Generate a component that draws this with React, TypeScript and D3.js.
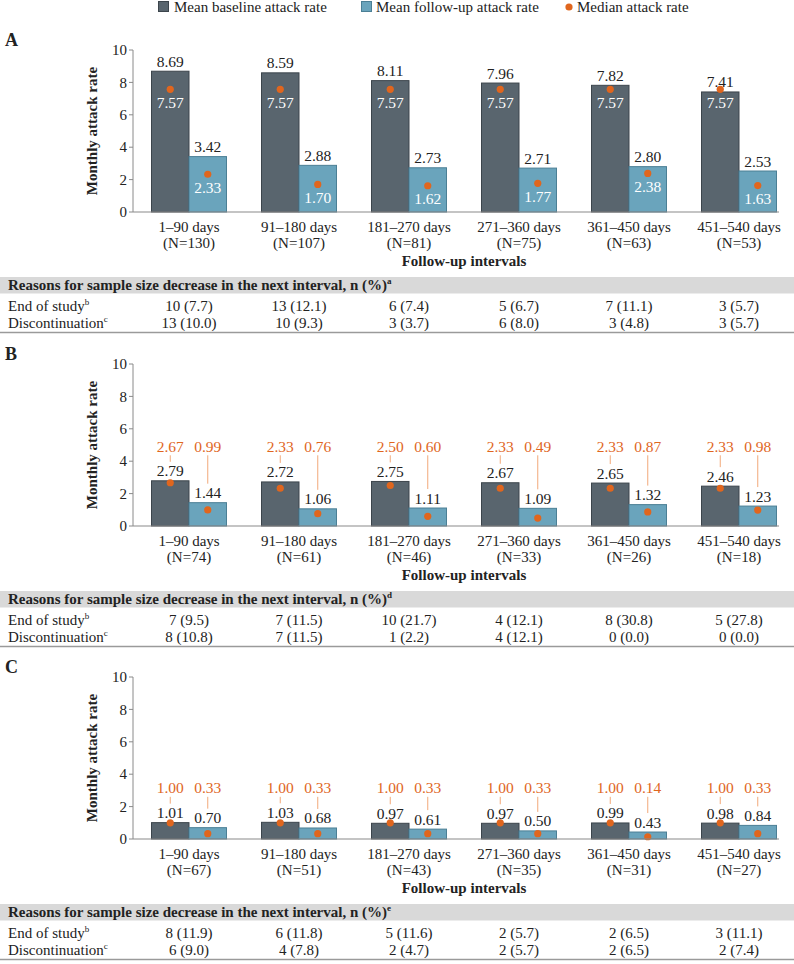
import React from "react";
import * as d3 from "d3";

const intervals = ["1–90 days", "91–180 days", "181–270 days", "271–360 days", "361–450 days", "451–540 days"];
const seriesKeys = ["baseline", "followup"];
const yTicks = [0, 2, 4, 6, 8, 10];

const nA = [130, 107, 81, 75, 63, 53];
const baselineA = [8.69, 8.59, 8.11, 7.96, 7.82, 7.41];
const followA = [3.42, 2.88, 2.73, 2.71, 2.80, 2.53];
const medBaseA = [7.57, 7.57, 7.57, 7.57, 7.57, 7.57];
const medFollowA = [2.33, 1.70, 1.62, 1.77, 2.38, 1.63];
const endA = ["10 (7.7)", "13 (12.1)", "6 (7.4)", "5 (6.7)", "7 (11.1)", "3 (5.7)"];
const discA = ["13 (10.0)", "10 (9.3)", "3 (3.7)", "6 (8.0)", "3 (4.8)", "3 (5.7)"];

const nB = [74, 61, 46, 33, 26, 18];
const baselineB = [2.79, 2.72, 2.75, 2.67, 2.65, 2.46];
const followB = [1.44, 1.06, 1.11, 1.09, 1.32, 1.23];
const medBaseB = [2.67, 2.33, 2.50, 2.33, 2.33, 2.33];
const medFollowB = [0.99, 0.76, 0.60, 0.49, 0.87, 0.98];
const endB = ["7 (9.5)", "7 (11.5)", "10 (21.7)", "4 (12.1)", "8 (30.8)", "5 (27.8)"];
const discB = ["8 (10.8)", "7 (11.5)", "1 (2.2)", "4 (12.1)", "0 (0.0)", "0 (0.0)"];

const nC = [67, 51, 43, 35, 31, 27];
const baselineC = [1.01, 1.03, 0.97, 0.97, 0.99, 0.98];
const followC = [0.70, 0.68, 0.61, 0.50, 0.43, 0.84];
const medBaseC = [1.00, 1.00, 1.00, 1.00, 1.00, 1.00];
const medFollowC = [0.33, 0.33, 0.33, 0.33, 0.14, 0.33];
const endC = ["8 (11.9)", "6 (11.8)", "5 (11.6)", "2 (5.7)", "2 (6.5)", "3 (11.1)"];
const discC = ["6 (9.0)", "4 (7.8)", "2 (4.7)", "2 (5.7)", "2 (6.5)", "2 (7.4)"];

const DARK = "#59656e";
const DARK_STROKE = "#3c454c";
const LIGHT = "#6aa4bc";
const LIGHT_STROKE = "#4b7f95";
const ORANGE = "#e0661e";
const LEADER = "#f2a97a";
const FONT = "Liberation Serif, Times New Roman, Times, DejaVu Serif, serif";

type Panel = {
  label: string;
  y0: number;
  n: number[];
  base: number[];
  follow: number[];
  medBase: number[];
  medFollow: number[];
  end: string[];
  disc: string[];
  note: string;
  inside: boolean;
};

const panels: Panel[] = [
  { label: "A", y0: 212, n: nA, base: baselineA, follow: followA, medBase: medBaseA, medFollow: medFollowA, end: endA, disc: discA, note: "a", inside: true },
  { label: "B", y0: 526, n: nB, base: baselineB, follow: followB, medBase: medBaseB, medFollow: medFollowB, end: endB, disc: discB, note: "d", inside: false },
  { label: "C", y0: 839, n: nC, base: baselineC, follow: followC, medBase: medBaseC, medFollow: medFollowC, end: endC, disc: discC, note: "e", inside: false },
];

const x = d3.scaleBand<string>().domain(intervals).range([134, 794]).paddingInner(35 / 110).paddingOuter(35 / 220);
const xs = d3.scaleBand<string>().domain(seriesKeys).range([0, x.bandwidth()]);

const txt = { fontFamily: FONT, fill: "#222" };

function PanelView({ p }: { p: Panel }) {
  const y = d3.scaleLinear().domain([0, 10]).range([p.y0, p.y0 - 162]);
  const maxMean = d3.max(p.base.concat(p.follow)) as number;
  const orangeY = y(maxMean) - 34;
  const axisX = 133;
  return (
    <g>
      <text x={5} y={p.y0 - 166} fontSize={18} fontWeight="bold" style={txt}>{p.label}</text>
      <line x1={axisX} x2={axisX} y1={y(10)} y2={y(0)} stroke="#8a8a8a" strokeWidth={1} />
      {yTicks.map((t) => (
        <g key={t}>
          <line x1={axisX - 4} x2={axisX} y1={y(t)} y2={y(t)} stroke="#8a8a8a" />
          <text x={127} y={y(t)} dy="0.34em" textAnchor="end" fontSize={15} style={txt}>{t}</text>
        </g>
      ))}
      <text transform={`translate(92,${(y(0) + y(10)) / 2}) rotate(-90)`} textAnchor="middle" dy="0.34em" fontSize={15} fontWeight="bold" style={txt}>Monthly attack rate</text>
      {intervals.map((g, i) => {
        const gx = x(g) as number;
        const bx = gx + (xs("baseline") as number);
        const fx = gx + (xs("followup") as number);
        const bw = xs.bandwidth();
        const cxG = gx + x.bandwidth() / 2;
        const vals = [
          { x0: bx, v: p.base[i], m: p.medBase[i], fill: DARK, stroke: DARK_STROKE },
          { x0: fx, v: p.follow[i], m: p.medFollow[i], fill: LIGHT, stroke: LIGHT_STROKE },
        ];
        return (
          <g key={g}>
            {vals.map((b, j) => {
              const cx = b.x0 + bw / 2;
              const meanBase = y(b.v) - 4.5;
              return (
                <g key={j}>
                  <rect x={b.x0} y={y(b.v)} width={bw} height={y(0) - y(b.v)} fill={b.fill} stroke={b.stroke} strokeWidth={1} />
                  <text x={cx} y={meanBase} textAnchor="middle" fontSize={15.5} style={txt}>{b.v.toFixed(2)}</text>
                  <circle cx={cx} cy={y(b.m)} r={3.6} fill={ORANGE} />
                  {p.inside ? (
                    <text x={cx} y={y(b.m) + 18.5} textAnchor="middle" fontSize={15.5} style={{ fontFamily: FONT, fill: "#ffffff" }}>{b.m.toFixed(2)}</text>
                  ) : (
                    <g>
                      <text x={cx} y={orangeY + 5} textAnchor="middle" fontSize={15.5} style={{ fontFamily: FONT, fill: ORANGE }}>{b.m.toFixed(2)}</text>
                      <line x1={cx} x2={cx} y1={orangeY + 8.5} y2={meanBase - 14.5} stroke={LEADER} strokeWidth={1} />
                    </g>
                  )}
                </g>
              );
            })}
            <text x={cxG} y={p.y0 + 19.5} textAnchor="middle" fontSize={15} style={txt}>{g}</text>
            <text x={cxG} y={p.y0 + 36} textAnchor="middle" fontSize={15} style={txt}>{`(N=${p.n[i]})`}</text>
            <text x={cxG} y={p.y0 + 99} textAnchor="middle" fontSize={15} style={txt}>{p.end[i]}</text>
            <text x={cxG} y={p.y0 + 116} textAnchor="middle" fontSize={15} style={txt}>{p.disc[i]}</text>
          </g>
        );
      })}
      <line x1={axisX} x2={779} y1={y(0)} y2={y(0)} stroke="#8a8a8a" strokeWidth={1.2} />
      <text x={464} y={p.y0 + 54} textAnchor="middle" fontSize={15} fontWeight="bold" style={txt}>Follow-up intervals</text>
      <rect x={0} y={p.y0 + 65} width={794} height={16.5} fill="#d9d9d9" />
      <text x={8} y={p.y0 + 78} fontSize={15} fontWeight="bold" style={txt}>
        Reasons for sample size decrease in the next interval, n (%)
        <tspan fontSize={9} dy={-6}>{p.note}</tspan>
      </text>
      <text x={8} y={p.y0 + 99} fontSize={15} style={txt}>
        End of study<tspan fontSize={9} dy={-6}>b</tspan>
      </text>
      <text x={8} y={p.y0 + 116} fontSize={15} style={txt}>
        Discontinuation<tspan fontSize={9} dy={-6}>c</tspan>
      </text>
      <line x1={0} x2={794} y1={p.y0 + 120.5} y2={p.y0 + 120.5} stroke="#9a9a9a" strokeWidth={1.5} />
    </g>
  );
}

export default function App() {
  return (
    <svg width={794} height={964} style={{ position: "absolute", left: 0, top: 0, background: "#fff" }}>
      <rect x={0} y={0} width={794} height={964} fill="#ffffff" />
      <rect x={158.5} y={1.5} width={10} height={10} fill={DARK} stroke={DARK_STROKE} />
      <text x={174} y={12} fontSize={15} style={txt}>Mean baseline attack rate</text>
      <rect x={361.5} y={1.5} width={10} height={10} fill={LIGHT} stroke={LIGHT_STROKE} />
      <text x={376} y={12} fontSize={15} style={txt}>Mean follow-up attack rate</text>
      <circle cx={569} cy={7} r={3.6} fill={ORANGE} />
      <text x={577} y={12} fontSize={15} style={txt}>Median attack rate</text>
      {panels.map((p) => (
        <PanelView key={p.label} p={p} />
      ))}
    </svg>
  );
}
